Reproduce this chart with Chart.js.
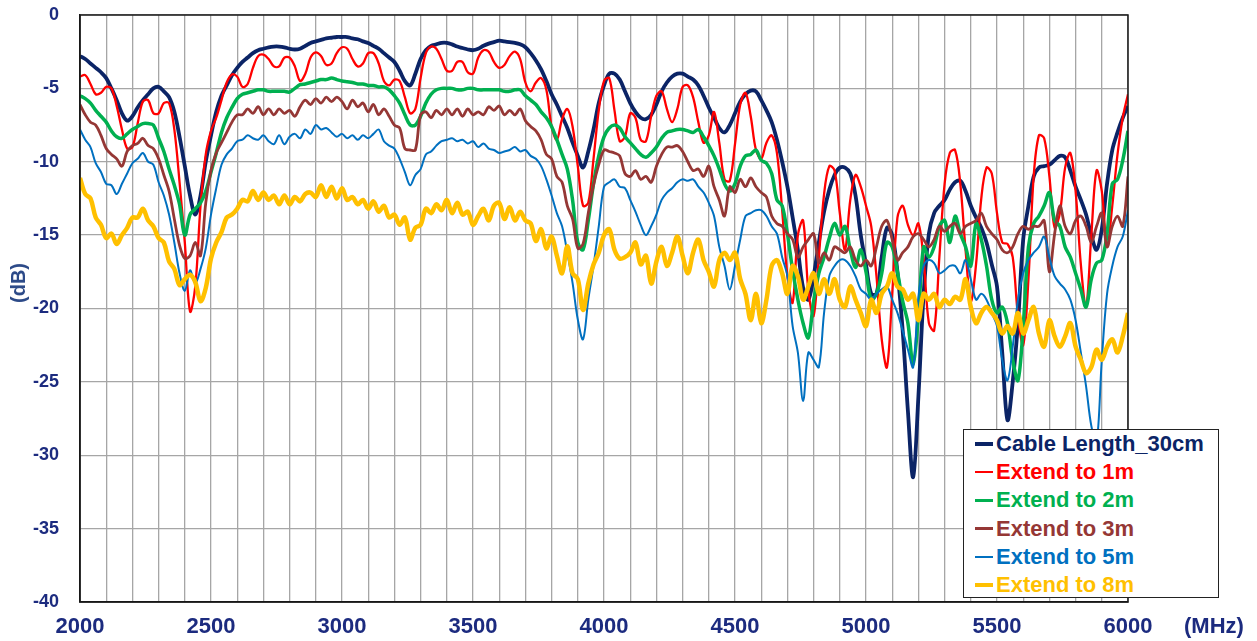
<!DOCTYPE html>
<html lang="en">
<head>
    <meta charset="UTF-8">
    <title>Cable Length Response</title>
    <style>
        body { margin: 0; background: #fff; }
        #wrap { position: relative; width: 1257px; height: 641px; overflow: hidden; }
        #chart { position: absolute; left: 0; top: 0; }
        .axis-title { position: absolute; font-family: "Liberation Sans", Arial, sans-serif; font-weight: bold; white-space: nowrap; line-height: 1; }
        #y-title { left: 18px; top: 283px; font-size: 20px; color: #2c4a88; transform: translate(-50%, -50%) rotate(-90deg); }
        #x-title { left: 1184px; top: 626px; font-size: 22px; color: #1c2b7f; transform: translateY(-50%); }
        #legend { position: absolute; left: 963px; top: 429px; width: 254px; height: 167px; background: #fff; border: 1.5px solid #222; font-family: "Liberation Sans", Arial, sans-serif; font-weight: bold; font-size: 22px; }
        #legend .row { height: 28.2px; line-height: 28.2px; display: flex; align-items: center; white-space: nowrap; }
        #legend .swatch { display: inline-block; width: 18px; margin-left: 11px; margin-right: 3px; }
    </style>
</head>
<body>
<div id="wrap">
    <canvas id="chart" width="1257" height="641"></canvas>
    <div id="y-title" class="axis-title">(dB)</div>
    <div id="x-title" class="axis-title">(MHz)</div>
    <div id="legend"></div>
</div>

<script src="https://cdn.jsdelivr.net/npm/chart.js"></script>
<script>
    // frequency points (MHz)
    const freqMHz = [
        2000,2020,2040,2060,2080,2100,2120,2140,2160,2180,
        2200,2220,2240,2260,2280,2300,2320,2340,2360,2380,
        2400,2420,2440,2460,2480,2500,2520,2540,2560,2580,
        2600,2620,2640,2660,2680,2700,2720,2740,2760,2780,
        2800,2820,2840,2860,2880,2900,2920,2940,2960,2980,
        3000,3020,3040,3060,3080,3100,3120,3140,3160,3180,
        3200,3220,3240,3260,3280,3300,3320,3340,3360,3380,
        3400,3420,3440,3460,3480,3500,3520,3540,3560,3580,
        3600,3620,3640,3660,3680,3700,3720,3740,3760,3780,
        3800,3820,3840,3860,3880,3900,3920,3940,3960,3980,
        4000,4020,4040,4060,4080,4100,4120,4140,4160,4180,
        4200,4220,4240,4260,4280,4300,4320,4340,4360,4380,
        4400,4420,4440,4460,4480,4500,4520,4540,4560,4580,
        4600,4620,4640,4660,4680,4700,4720,4740,4760,4780,
        4800,4820,4840,4860,4880,4900,4920,4940,4960,4980,
        5000,5020,5040,5060,5080,5100,5120,5140,5160,5180,
        5200,5220,5240,5260,5280,5300,5320,5340,5360,5380,
        5400,5420,5440,5460,5480,5500,5520,5540,5560,5580,
        5600,5620,5640,5660,5680,5700,5720,5740,5760,5780,
        5800,5820,5840,5860,5880,5900,5920,5940,5960,5980,
        6000
    ];

    // dB values, one per frequency point
    const cable30cm = [
        -2.8,-3.0,-3.3,-3.6,-3.9,-4.3,-5.0,-5.8,-6.7,-7.2,
        -6.9,-6.3,-5.8,-5.4,-5.0,-4.9,-5.2,-5.6,-6.6,-8.3,
        -10.3,-12.3,-13.6,-12.3,-10.0,-8.2,-6.6,-5.5,-4.8,-4.1,
        -3.6,-3.2,-2.9,-2.6,-2.4,-2.3,-2.2,-2.15,-2.15,-2.2,
        -2.3,-2.35,-2.3,-2.1,-1.9,-1.8,-1.7,-1.6,-1.55,-1.5,
        -1.5,-1.5,-1.6,-1.65,-1.8,-1.9,-2.1,-2.3,-2.6,-2.9,
        -3.2,-3.8,-4.5,-4.8,-4.0,-3.0,-2.4,-2.1,-2.0,-1.9,
        -1.9,-2.0,-2.15,-2.25,-2.35,-2.4,-2.3,-2.1,-1.95,-1.85,
        -1.75,-1.8,-1.85,-1.9,-2.0,-2.2,-2.6,-3.1,-3.7,-4.5,
        -5.4,-6.1,-6.9,-7.7,-8.7,-9.6,-10.4,-9.3,-7.8,-6.0,
        -4.8,-4.0,-4.0,-4.4,-5.2,-6.0,-6.6,-7.0,-7.1,-6.8,
        -6.1,-5.2,-4.6,-4.2,-4.0,-4.0,-4.2,-4.4,-4.8,-5.5,
        -6.3,-7.0,-7.7,-8.0,-7.5,-6.7,-5.9,-5.4,-5.15,-5.2,
        -5.8,-6.5,-7.3,-8.5,-10.0,-11.7,-13.8,-16.0,-18.6,-19.4,
        -17.8,-15.5,-13.4,-11.9,-10.9,-10.4,-10.4,-10.8,-12.3,-15.0,
        -17.0,-19.0,-19.0,-16.5,-14.5,-15.0,-17.5,-21.5,-27.0,-31.5,
        -26.0,-19.0,-14.9,-13.5,-13.0,-12.6,-11.9,-11.4,-11.3,-12.0,
        -13.0,-13.8,-14.5,-15.5,-17.0,-18.5,-23.0,-27.6,-25.0,-21.0,
        -15.3,-13.0,-11.0,-10.4,-10.3,-10.2,-9.9,-9.6,-9.7,-10.6,
        -11.7,-12.6,-13.6,-15.0,-16.0,-14.6,-11.5,-9.2,-8.0,-7.0,
        -6.2
    ];
    const extend1m = [
        -4.2,-4.1,-4.7,-5.4,-5.3,-4.9,-5.0,-6.2,-7.8,-9.1,
        -9.0,-7.4,-5.9,-5.8,-6.7,-6.7,-6.0,-6.0,-7.8,-11.4,
        -15.5,-20.2,-18.5,-13.0,-9.5,-7.9,-7.0,-5.8,-4.6,-4.05,
        -4.2,-4.9,-4.7,-3.6,-2.8,-2.7,-3.0,-3.5,-3.5,-2.9,
        -2.9,-3.5,-4.5,-4.0,-2.9,-2.55,-2.8,-3.4,-3.3,-2.6,
        -2.2,-2.3,-3.0,-3.5,-3.3,-2.6,-2.6,-3.3,-4.5,-4.8,
        -4.4,-4.5,-5.6,-6.7,-6.4,-4.3,-2.6,-2.15,-2.3,-3.0,
        -3.8,-3.8,-3.2,-3.2,-3.9,-4.0,-2.9,-2.4,-2.5,-3.2,
        -3.6,-3.4,-2.8,-2.5,-3.0,-4.6,-5.2,-4.6,-4.3,-5.1,
        -7.6,-8.5,-7.1,-6.4,-7.6,-10.3,-13.0,-12.8,-9.8,-6.5,
        -4.5,-4.3,-6.5,-8.6,-8.3,-6.7,-7.0,-8.5,-8.6,-6.9,
        -5.5,-5.2,-6.4,-7.3,-6.4,-4.9,-4.8,-5.6,-7.3,-8.7,
        -8.2,-6.6,-8.7,-11.2,-11.3,-8.8,-6.1,-5.3,-6.9,-9.2,
        -9.8,-8.7,-8.2,-9.4,-13.3,-17.8,-19.6,-15.0,-14.0,-18.8,
        -20.5,-16.5,-12.2,-10.3,-10.6,-13.5,-16.0,-12.6,-10.9,-11.7,
        -13.0,-14.4,-17.8,-22.1,-24.0,-19.0,-13.8,-13.0,-14.3,-15.0,
        -14.2,-16.7,-21.0,-21.5,-16.5,-11.5,-9.4,-9.2,-11.5,-16.0,
        -19.5,-17.0,-12.5,-10.4,-10.8,-13.5,-15.5,-15.6,-16.5,-20.5,
        -22.5,-18.0,-11.0,-8.2,-8.4,-11.0,-14.5,-13.5,-10.4,-9.4,
        -12.0,-17.0,-19.9,-15.0,-10.6,-12.0,-15.8,-13.0,-9.5,-7.0,
        -5.4
    ];
    const extend2m = [
        -5.5,-5.7,-6.0,-6.5,-6.9,-7.3,-7.9,-8.3,-8.4,-8.1,
        -7.8,-7.6,-7.4,-7.4,-7.5,-8.4,-9.3,-10.5,-11.6,-12.9,
        -15.0,-13.6,-13.2,-12.8,-12.0,-10.7,-9.4,-8.0,-7.0,-6.3,
        -5.7,-5.4,-5.3,-5.2,-5.1,-5.1,-5.2,-5.2,-5.2,-5.2,
        -5.25,-5.0,-4.75,-4.7,-4.6,-4.5,-4.4,-4.4,-4.3,-4.4,
        -4.5,-4.55,-4.6,-4.7,-4.7,-4.8,-4.8,-4.9,-4.9,-5.1,
        -5.5,-6.0,-6.8,-7.5,-7.5,-6.9,-6.0,-5.4,-5.1,-5.0,
        -5.0,-5.0,-5.1,-5.1,-5.0,-5.0,-5.1,-5.1,-5.1,-5.1,
        -5.1,-5.2,-5.2,-5.1,-5.1,-5.5,-5.8,-6.1,-6.6,-7.0,
        -7.6,-8.5,-9.5,-10.5,-12.6,-15.5,-16.0,-14.0,-11.5,-9.6,
        -8.3,-7.7,-7.5,-7.7,-8.3,-8.7,-9.1,-9.5,-9.7,-9.4,
        -9.0,-8.4,-8.0,-7.9,-7.8,-7.8,-7.9,-8.0,-7.8,-8.3,
        -8.9,-9.6,-10.5,-11.5,-12.0,-11.5,-10.3,-9.6,-9.5,-9.2,
        -9.9,-10.1,-10.8,-12.6,-13.0,-14.9,-17.4,-19.4,-21.0,-22.0,
        -19.5,-17.6,-16.5,-15.2,-14.2,-15.0,-14.4,-16.0,-17.2,-16.0,
        -17.5,-19.4,-19.0,-17.6,-15.5,-15.8,-17.5,-19.5,-21.0,-23.8,
        -20.5,-15.8,-16.5,-15.8,-14.4,-14.0,-15.5,-13.7,-14.9,-15.8,
        -17.1,-14.2,-15.3,-17.1,-19.4,-20.3,-19.9,-21.0,-23.5,-24.9,
        -21.2,-15.8,-14.2,-13.7,-13.0,-12.1,-14.0,-14.4,-15.8,-16.5,
        -17.6,-18.7,-19.9,-18.0,-16.9,-16.7,-14.9,-11.5,-11.2,-9.9,
        -7.9
    ];
    const extend3m = [
        -6.1,-6.8,-7.3,-7.5,-8.2,-9.1,-9.5,-9.8,-10.3,-9.3,
        -8.9,-8.75,-8.4,-8.9,-9.1,-9.8,-10.9,-12.0,-13.9,-15.7,
        -16.6,-16.4,-15.5,-16.4,-12.8,-10.6,-9.4,-8.7,-8.0,-7.3,
        -6.8,-6.8,-6.4,-6.7,-6.25,-6.8,-6.4,-6.8,-6.4,-6.7,
        -6.5,-6.9,-6.25,-5.8,-6.1,-5.7,-6.0,-5.6,-5.9,-5.6,
        -5.9,-6.4,-5.8,-6.25,-6.0,-6.6,-6.1,-6.8,-6.4,-6.9,
        -7.5,-7.7,-9.1,-9.2,-9.2,-6.8,-6.6,-7.0,-6.5,-6.8,
        -6.4,-6.8,-6.4,-6.9,-6.4,-6.8,-6.6,-6.8,-6.25,-6.5,
        -6.2,-6.8,-6.5,-6.8,-6.4,-7.2,-7.6,-7.9,-8.5,-9.5,
        -9.8,-11.0,-11.4,-13.0,-13.9,-15.9,-15.6,-13.5,-11.6,-10.2,
        -9.2,-9.3,-9.4,-9.6,-10.8,-11.0,-10.6,-11.2,-11.0,-11.4,
        -10.3,-9.5,-9.0,-9.0,-8.9,-9.3,-10.0,-10.6,-10.5,-11.0,
        -10.3,-11.7,-12.6,-13.7,-11.7,-12.1,-11.2,-11.7,-11.1,-11.7,
        -12.1,-12.4,-13.7,-14.2,-14.4,-14.9,-15.3,-16.5,-15.8,-15.3,
        -14.9,-16.9,-16.2,-16.7,-15.8,-16.0,-16.2,-15.8,-16.7,-17.1,
        -16.7,-17.1,-15.8,-14.4,-14.0,-15.3,-16.7,-16.2,-15.8,-15.1,
        -14.9,-15.3,-15.8,-15.3,-14.4,-14.75,-14.4,-14.2,-14.9,-14.4,
        -14.2,-14.0,-13.5,-14.4,-14.9,-15.3,-16.0,-16.2,-15.8,-14.9,
        -14.4,-14.6,-14.4,-14.4,-14.0,-17.5,-14.9,-13.0,-14.4,-14.9,
        -14.0,-13.7,-14.4,-15.5,-14.4,-13.5,-15.8,-14.4,-13.7,-14.4,
        -11.0
    ];
    const extend5m = [
        -7.8,-8.5,-9.0,-10.1,-10.7,-11.5,-11.6,-12.2,-11.5,-10.8,
        -10.1,-9.8,-9.4,-10.0,-10.2,-11.4,-12.3,-13.6,-15.5,-17.6,
        -18.8,-17.4,-18.3,-17.3,-15.9,-13.6,-11.8,-10.2,-9.5,-9.1,
        -8.6,-8.5,-8.2,-8.4,-8.5,-8.2,-8.6,-8.8,-8.2,-8.8,
        -8.3,-8.1,-8.4,-7.8,-8.1,-7.5,-7.8,-7.7,-8.0,-8.3,
        -8.1,-8.4,-8.2,-8.5,-8.2,-8.4,-8.1,-7.8,-8.6,-8.9,
        -9.1,-9.8,-10.7,-11.6,-10.9,-10.5,-9.5,-9.3,-8.9,-8.6,
        -8.5,-8.4,-8.6,-8.5,-8.75,-8.6,-9.0,-8.75,-9.1,-9.2,
        -9.4,-9.3,-9.2,-9.0,-9.3,-9.2,-9.6,-9.8,-10.3,-11.2,
        -12.3,-13.5,-14.4,-16.2,-18.25,-20.75,-22.1,-19.4,-17.1,-14.4,
        -11.7,-11.4,-11.2,-11.7,-11.8,-12.6,-13.4,-14.3,-15.0,-14.4,
        -13.6,-12.6,-12.1,-11.8,-11.4,-11.2,-11.3,-11.2,-11.7,-12.1,
        -12.8,-13.7,-15.8,-17.1,-18.7,-17.1,-15.3,-13.7,-13.5,-13.3,
        -13.3,-13.7,-14.4,-14.9,-16.5,-17.8,-21.2,-23.0,-26.3,-23.0,
        -23.5,-24.0,-20.3,-17.8,-17.1,-16.7,-16.7,-17.1,-17.8,-18.7,
        -19.0,-19.4,-19.0,-18.7,-18.5,-19.4,-20.3,-21.5,-22.8,-24.0,
        -19.2,-17.1,-16.7,-16.9,-17.6,-17.4,-17.1,-17.1,-17.6,-16.7,
        -18.0,-19.4,-19.0,-19.4,-20.3,-21.2,-23.5,-24.9,-22.6,-19.4,
        -17.6,-16.7,-16.2,-15.8,-15.1,-16.5,-17.8,-18.3,-18.7,-19.4,
        -20.8,-23.0,-25.3,-28.0,-29.2,-23.5,-19.0,-17.1,-15.8,-15.1,
        -13.3
    ];
    const extend8m = [
        -11.1,-12.2,-12.5,-13.8,-14.3,-15.2,-14.9,-15.6,-15.0,-14.5,
        -13.8,-13.8,-13.2,-14.0,-14.4,-15.2,-15.5,-16.8,-17.3,-18.4,
        -18.0,-17.7,-18.2,-19.5,-18.6,-16.6,-15.5,-14.8,-13.8,-13.6,
        -13.2,-12.6,-12.7,-12.0,-12.6,-12.1,-12.6,-12.3,-12.9,-12.3,
        -12.9,-12.4,-12.7,-12.2,-12.1,-12.4,-11.6,-12.4,-11.7,-12.5,
        -11.8,-12.6,-12.4,-12.9,-12.6,-13.2,-12.7,-13.4,-13.0,-13.8,
        -13.6,-14.3,-13.8,-15.3,-14.5,-14.3,-13.2,-13.5,-12.9,-13.3,
        -12.6,-13.5,-12.8,-13.6,-13.4,-14.3,-13.7,-13.2,-14.0,-13.0,
        -12.8,-13.9,-13.1,-14.0,-13.4,-14.0,-14.2,-15.4,-14.6,-15.9,
        -15.1,-16.4,-17.6,-15.75,-17.6,-18.0,-20.1,-18.3,-17.0,-16.2,
        -15.0,-14.6,-16.0,-16.6,-16.5,-16.2,-15.5,-17.0,-16.4,-18.3,
        -16.8,-15.8,-17.1,-16.2,-15.1,-16.4,-17.6,-16.2,-15.3,-16.7,
        -17.5,-18.5,-16.7,-16.2,-16.7,-16.2,-18.0,-19.0,-20.8,-19.0,
        -21.0,-19.4,-17.1,-16.7,-17.6,-19.0,-17.1,-17.8,-19.4,-18.5,
        -17.6,-19.0,-18.0,-19.0,-18.0,-19.4,-19.9,-18.5,-19.4,-20.3,
        -21.2,-19.4,-20.3,-19.0,-18.5,-17.6,-18.5,-18.7,-19.4,-19.0,
        -20.8,-19.0,-19.4,-19.0,-19.9,-19.4,-19.7,-19.2,-19.4,-18.0,
        -19.9,-21.0,-20.3,-19.9,-20.3,-20.8,-21.7,-21.2,-21.7,-20.3,
        -21.7,-20.8,-19.9,-21.7,-22.6,-20.8,-21.9,-22.6,-21.9,-21.0,
        -22.6,-23.5,-24.4,-24.0,-22.8,-23.5,-22.6,-22.1,-23.0,-21.9,
        -20.3
    ];

    const seriesNames = ['Cable Length_30cm', 'Extend to 1m', 'Extend to 2m', 'Extend to 3m', 'Extend to 5m', 'Extend to 8m'];
    const seriesData = [cable30cm, extend1m, extend2m, extend3m, extend5m, extend8m];
    const seriesColors = ['#0b2466', '#ff0000', '#00b050', '#953735', '#0070c0', '#ffc000'];
    const seriesWidths = [3.8, 2.3, 3.5, 2.8, 2, 4.5];

    const xTicks = { min: 2000, max: 6000, step: 100, labelEvery: 500 };
    const yTicks = { min: -40, max: 0, step: 5 };

    const tickColor = '#1c2b7f';
    const fontFamily = '"Liberation Sans", Arial, sans-serif';

    // black frame round the plot area
    const frame = {
        id: 'frame',
        afterDatasetsDraw(chart) {
            const a = chart.chartArea;
            const c = chart.ctx;
            c.save();
            c.strokeStyle = '#1a1a1a';
            c.lineWidth = 1.5;
            c.strokeRect(a.left, a.top, a.right - a.left, a.bottom - a.top);
            c.restore();
        }
    };

    // keep the plot box where the original has it (no extra room for edge labels)
    function noEdgePadding(s) {
        s.paddingTop = 0; s.paddingBottom = 0; s.paddingLeft = 0; s.paddingRight = 0;
    }

    const datasets = seriesData.map((vals, i) => ({
        label: seriesNames[i],
        data: freqMHz.map((f, k) => ({ x: f, y: vals[k] })),
        borderColor: seriesColors[i],
        borderWidth: seriesWidths[i],
        pointRadius: 0,
        tension: 0.35,
        fill: false,
        order: seriesData.length - i   // later series drawn on top, like the original
    }));

    new Chart(document.getElementById('chart').getContext('2d'), {
        type: 'line',
        data: { datasets: datasets },
        options: {
            responsive: false,
            animation: false,
            layout: { padding: { top: 15, right: 129, left: 0, bottom: 0 } },
            plugins: { legend: { display: false }, tooltip: { enabled: false } },
            scales: {
                x: {
                    type: 'linear',
                    min: xTicks.min,
                    max: xTicks.max,
                    afterFit: s => { s.height = 39; noEdgePadding(s); },
                    grid: { color: '#a6a6a6', lineWidth: 1.3, drawTicks: false },
                    border: { color: '#111', width: 1.5 },
                    ticks: {
                        stepSize: xTicks.step,
                        autoSkip: false,
                        maxRotation: 0,
                        padding: 12,
                        color: tickColor,
                        font: { family: fontFamily, size: 22, weight: 'bold' },
                        callback: v => (v % xTicks.labelEvery === 0 ? v : '')
                    }
                },
                y: {
                    min: yTicks.min,
                    max: yTicks.max,
                    afterFit: s => { s.width = 80; noEdgePadding(s); },
                    grid: { color: '#a6a6a6', lineWidth: 1.3, drawTicks: false },
                    border: { color: '#111', width: 1.5 },
                    ticks: {
                        stepSize: yTicks.step,
                        padding: 21,
                        color: tickColor,
                        font: { family: fontFamily, size: 18, weight: 'bold' }
                    }
                }
            }
        },
        plugins: [frame]
    });

    // legend box drawn over the plot, as in the original
    const legend = document.getElementById('legend');
    seriesNames.forEach((name, i) => {
        const row = document.createElement('div');
        row.className = 'row';
        row.style.color = seriesColors[i];
        const sw = document.createElement('span');
        sw.className = 'swatch';
        sw.style.height = seriesWidths[i] + 'px';
        sw.style.background = seriesColors[i];
        row.appendChild(sw);
        row.appendChild(document.createTextNode(name));
        legend.appendChild(row);
    });
</script>
</body>
</html>
